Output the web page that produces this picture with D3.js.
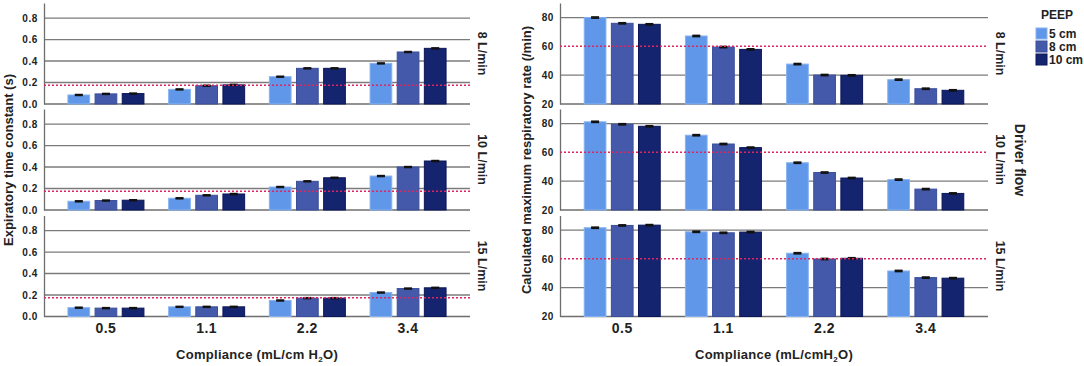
<!DOCTYPE html>
<html>
<head>
<meta charset="utf-8">
<script src="https://cdn.jsdelivr.net/npm/d3@7"></script>
<style>
  body { margin: 0; background: #fff; }
  svg { font-family: "Liberation Sans", Arial, sans-serif; font-weight: bold; }
</style>
</head>
<body>
<svg id="chart" width="1084" height="366"></svg>
<script>
// categories
const compliance = ["0.5", "1.1", "2.2", "3.4"]
const peep = ["5 cm", "8 cm", "10 cm"]
const flows = ["8 L/min", "10 L/min", "15 L/min"]

// expiratory time constant (s), rows = PEEP 5/8/10, cols = compliance
const tau8L  = [[0.084, 0.136, 0.254, 0.378], [0.094, 0.170, 0.332, 0.484], [0.097, 0.178, 0.332, 0.518]]
const tau10L = [[0.081, 0.109, 0.214, 0.316], [0.088, 0.137, 0.267, 0.400], [0.091, 0.149, 0.300, 0.456]]
const tau15L = [[0.082, 0.090, 0.149, 0.223], [0.078, 0.090, 0.171, 0.260], [0.078, 0.090, 0.171, 0.267]]

// calculated maximum respiratory rate (/min)
const rate8L  = [[80.0, 67.2, 47.7, 36.9], [76.0, 59.5, 40.1, 30.6], [75.3, 57.9, 39.9, 29.5]]
const rate10L = [[81.2, 71.9, 52.8, 41.1], [79.5, 65.8, 46.0, 34.5], [78.1, 63.3, 42.2, 31.5]]
const rate15L = [[81.6, 78.8, 63.9, 51.6], [83.2, 78.1, 59.9, 47.0], [83.4, 78.6, 60.4, 46.6]]

const tauTicks = [0.0, 0.2, 0.4, 0.6, 0.8]
const rateTicks = [20, 40, 60, 80]
const tauGrid = [0.2, 0.4, 0.6, 0.8]
const rateGrid = [40, 80]
const tauRef = 0.175
const rateRef = 60
const tauErr = 0.004
const rateErr = 0.4

const colors = ["#6097e8", "#4459a9", "#15246f"]
const strokes = ["#86b2f2", "#3a4e9c", "#0b1658"]

const svg = d3.select("#chart")
const baselines = [104, 210, 316.5]
const panelH = 101

function drawChart(opts) {
    const x0 = opts.left, x1 = opts.right
    const xGroup = d3.scaleBand().domain(compliance)
        .range([x0, x1]).paddingInner(0).paddingOuter(0.115)
    const xSub = d3.scaleBand().domain(peep)
        .range([-38, 38]).paddingInner(0.2)

    opts.data.forEach((rows, fi) => {
        const base = baselines[fi]
        const y = d3.scaleLinear().domain(opts.domain).range([base, base - panelH])
        const g = svg.append("g")

        // gridlines
        g.selectAll(".grid").data(opts.grid).join("line")
            .attr("x1", x0).attr("x2", x1)
            .attr("y1", d => y(d)).attr("y2", d => y(d))
            .attr("stroke", "#7b7b7b").attr("stroke-width", 1.3)

        // baseline + left axis
        g.append("line").attr("x1", x0).attr("x2", x1)
            .attr("y1", base).attr("y2", base)
            .attr("stroke", "#6e6e6e").attr("stroke-width", 1.3)

        const axis = d3.axisLeft(y).tickValues(opts.ticks).tickSize(0).tickPadding(6)
            .tickFormat(opts.fmt)
        const ax = g.append("g").attr("transform", `translate(${x0},0)`).call(axis)
        ax.select(".domain").attr("stroke", "#6e6e6e").attr("stroke-width", 1.3)
        ax.selectAll("text").attr("font-size", 10).attr("font-weight", "bold")
            .attr("letter-spacing", 0.6)
            .attr("fill", "#222").attr("font-family", "Liberation Sans, Arial, sans-serif")

        // bars
        const bars = []
        rows.forEach((vals, pi) => vals.forEach((v, ci) => bars.push({pi, ci, v})))
        const bx = d => xGroup(compliance[d.ci]) + xGroup.bandwidth() / 2 + xSub(peep[d.pi])
        g.selectAll(".bar").data(bars).join("rect")
            .attr("x", bx)
            .attr("width", xSub.bandwidth())
            .attr("y", d => y(d.v))
            .attr("height", d => base - y(d.v))
            .attr("fill", d => colors[d.pi])
            .attr("stroke", d => strokes[d.pi])
            .attr("stroke-width", 1)

        // error bars
        const ex = d => bx(d) + xSub.bandwidth() / 2
        g.selectAll(".err").data(bars).join("line")
            .attr("x1", ex).attr("x2", ex)
            .attr("y1", d => y(d.v + opts.err)).attr("y2", d => y(d.v - opts.err))
            .attr("stroke", "#111").attr("stroke-width", 1.2)
        ;[1, -1].forEach(s => {
            g.selectAll(".cap" + s).data(bars).join("line")
                .attr("x1", d => ex(d) - 4).attr("x2", d => ex(d) + 4)
                .attr("y1", d => y(d.v + s * opts.err)).attr("y2", d => y(d.v + s * opts.err))
                .attr("stroke", "#111").attr("stroke-width", 1.6)
        })

        // reference line
        g.append("line").attr("x1", x0).attr("x2", x1)
            .attr("y1", y(opts.ref)).attr("y2", y(opts.ref))
            .attr("stroke", "#e0245e").attr("stroke-width", 1.5)
            .attr("stroke-dasharray", "2,2")

        // facet label
        const cy = base - panelH / 2
        g.append("text")
            .attr("transform", `translate(${x1 + 8},${cy}) rotate(90)`)
            .attr("text-anchor", "middle")
            .attr("font-size", 12.5).attr("fill", "#222")
            .text(flows[fi])
    })

    // category labels
    svg.append("g").selectAll("text").data(compliance).join("text")
        .attr("x", d => xGroup(d) + xGroup.bandwidth() / 2)
        .attr("y", 333)
        .attr("text-anchor", "middle").attr("font-size", 14).attr("fill", "#222")
        .attr("letter-spacing", 0.5)
        .text(d => d)

    // x title
    const xt = svg.append("text")
        .attr("x", (x0 + x1) / 2).attr("y", 359)
        .attr("text-anchor", "middle").attr("font-size", 13).attr("fill", "#222")
        .attr("letter-spacing", 0.3)
    xt.append("tspan").text(opts.xTitle)
    xt.append("tspan").attr("font-size", 8).attr("dy", 3).text("2")
    xt.append("tspan").attr("dy", -3).text("O)")

    // y title
    svg.append("text")
        .attr("transform", `translate(${opts.yTitleX},${160}) rotate(-90)`)
        .attr("text-anchor", "middle").attr("font-size", 13).attr("fill", "#222")
        .text(opts.yTitle)
}

drawChart({
    left: 44, right: 470,
    data: [tau8L, tau10L, tau15L],
    domain: [0, 0.94], ticks: tauTicks, grid: tauGrid, fmt: d3.format(".1f"),
    ref: tauRef, err: tauErr,
    xTitle: "Compliance (mL/cm H", yTitle: "Expiratory time constant (s)", yTitleX: 13
})

drawChart({
    left: 560, right: 988,
    data: [rate8L, rate10L, rate15L],
    domain: [20, 90.1], ticks: rateTicks, grid: rateGrid, fmt: d3.format("d"),
    ref: rateRef, err: rateErr,
    xTitle: "Compliance (mL/cmH", yTitle: "Calculated maximum respiratory rate (/min)", yTitleX: 531
})

// driver flow label
svg.append("text")
    .attr("transform", "translate(1015,160) rotate(90)")
    .attr("text-anchor", "middle").attr("font-size", 14).attr("fill", "#222")
    .text("Driver flow")

// legend
const legend = svg.append("g").attr("transform", "translate(1036,0)")
legend.append("text").attr("x", 21).attr("y", 19)
    .attr("text-anchor", "middle").attr("font-size", 12).attr("fill", "#222").text("PEEP")
legend.selectAll("rect").data(peep).join("rect")
    .attr("x", 0).attr("y", (d, i) => 28 + i * 13)
    .attr("width", 11).attr("height", 11)
    .attr("fill", (d, i) => colors[i]).attr("stroke", (d, i) => strokes[i])
legend.selectAll(".lt").data(peep).join("text")
    .attr("x", 13).attr("y", (d, i) => 38 + i * 13)
    .attr("font-size", 12).attr("fill", "#222").text(d => d)
</script>
</body>
</html>
